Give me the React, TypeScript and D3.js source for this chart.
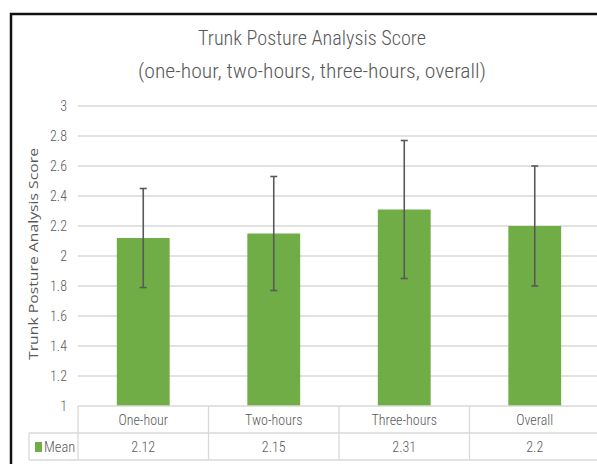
import { useRef, useEffect } from "react";
import * as d3 from "d3";

const categories = ["One-hour", "Two-hours", "Three-hours", "Overall"];
const means = [2.12, 2.15, 2.31, 2.2];
const errors = [0.33, 0.38, 0.46, 0.4];
const yTicks = [1, 1.2, 1.4, 1.6, 1.8, 2, 2.2, 2.4, 2.6, 2.8, 3];
const seriesName = "Mean";

const green = "#70ad47";
const gray = "#595959";
const gridColor = "#d9d9d9";
const font = "'Liberation Sans Narrow', 'Roboto Condensed', Roboto, 'Open Sans', sans-serif";

export default function App() {
  const svgRef = useRef<SVGSVGElement>(null);

  useEffect(() => {
    const svg = d3.select(svgRef.current);
    svg.selectAll("*").remove();

    const width = 597;
    const height = 464;
    const left = 78;
    const right = 600;
    const top = 106;
    const bottom = 406;
    const rowH = 27;

    svg.append("rect").attr("width", width).attr("height", height).attr("fill", "#fff");

    // chart frame (left & top, rest cropped)
    svg
      .append("path")
      .attr("d", `M11,${height} L11,14 L${width},14`)
      .attr("fill", "none")
      .attr("stroke", "#111")
      .attr("stroke-width", 2.5);

    const x = d3.scaleBand().domain(categories).range([left, right]).padding(0);
    const y = d3.scaleLinear().domain([1, 3]).range([bottom, top]);

    // title
    const titles = [
      { t: "Trunk Posture Analysis Score", y: 45, w: 228 },
      { t: "(one-hour, two-hours, three-hours, overall)", y: 78, w: 348 },
    ];
    titles.forEach((d) => {
      svg
        .append("text")
        .attr("x", 312)
        .attr("y", d.y)
        .attr("text-anchor", "middle")
        .attr("font-family", font)
        .attr("font-size", 20)
        .attr("font-weight", 300)
        .attr("fill", gray)
        .attr("textLength", d.w)
        .attr("lengthAdjust", "spacingAndGlyphs")
        .text(d.t);
    });

    // gridlines
    svg
      .append("g")
      .selectAll("line")
      .data(yTicks.slice(1))
      .enter()
      .append("line")
      .attr("x1", left)
      .attr("x2", width)
      .attr("y1", (d) => y(d))
      .attr("y2", (d) => y(d))
      .attr("stroke", gridColor)
      .attr("stroke-width", 1.3);

    // tick labels
    svg
      .append("g")
      .selectAll("text")
      .data(yTicks)
      .enter()
      .append("text")
      .attr("x", 67)
      .attr("y", (d) => y(d) + 5)
      .attr("text-anchor", "end")
      .attr("font-family", font)
      .attr("font-size", 14)
      .attr("font-weight", 300)
      .attr("fill", gray)
      .text((d) => String(d));

    // axis title
    svg
      .append("text")
      .attr("transform", `translate(38,${(top + bottom) / 2 - 2}) rotate(-90)`)
      .attr("text-anchor", "middle")
      .attr("font-family", "'Open Sans', sans-serif")
      .attr("font-size", 12.5)
      .attr("font-weight", 500)
      .attr("fill", gray)
      .attr("textLength", 212)
      .attr("lengthAdjust", "spacingAndGlyphs")
      .text("Trunk Posture Analysis Score");

    // bars
    const bw = x.bandwidth() * 0.405;
    svg
      .append("g")
      .selectAll("rect")
      .data(means)
      .enter()
      .append("rect")
      .attr("x", (d, i) => x(categories[i])! + x.bandwidth() / 2 - bw / 2)
      .attr("y", (d) => y(d))
      .attr("width", bw)
      .attr("height", (d) => bottom - y(d))
      .attr("fill", green);

    // error bars
    const eb = svg.append("g").attr("stroke", gray).attr("stroke-width", 1.6);
    means.forEach((m, i) => {
      const cx = x(categories[i])! + x.bandwidth() / 2;
      const hi = y(m + errors[i]);
      const lo = y(m - errors[i]);
      eb.append("line").attr("x1", cx).attr("x2", cx).attr("y1", hi).attr("y2", lo);
      eb.append("line").attr("x1", cx - 3.5).attr("x2", cx + 3.5).attr("y1", hi).attr("y2", hi);
      eb.append("line").attr("x1", cx - 3.5).attr("x2", cx + 3.5).attr("y1", lo).attr("y2", lo);
    });

    // data table
    const tbl = svg.append("g").attr("stroke", gridColor).attr("stroke-width", 1.3);
    tbl.append("line").attr("x1", left).attr("x2", width).attr("y1", bottom).attr("y2", bottom);
    tbl.append("line").attr("x1", 29).attr("x2", width).attr("y1", bottom + rowH).attr("y2", bottom + rowH);
    tbl.append("line").attr("x1", 29).attr("x2", width).attr("y1", bottom + 2 * rowH).attr("y2", bottom + 2 * rowH);
    tbl.append("line").attr("x1", 29).attr("x2", 29).attr("y1", bottom + rowH).attr("y2", bottom + 2 * rowH);
    categories.forEach((c) => {
      const xx = x(c)!;
      tbl.append("line").attr("x1", xx).attr("x2", xx).attr("y1", bottom).attr("y2", bottom + 2 * rowH);
    });

    categories.forEach((c, i) => {
      const cx = x(c)! + x.bandwidth() / 2;
      svg
        .append("text")
        .attr("x", cx)
        .attr("y", bottom + 19)
        .attr("text-anchor", "middle")
        .attr("font-family", font)
        .attr("font-size", 14)
        .attr("font-weight", 300)
        .attr("fill", gray)
        .text(c);
      svg
        .append("text")
        .attr("x", cx)
        .attr("y", bottom + rowH + 19)
        .attr("text-anchor", "middle")
        .attr("font-family", font)
        .attr("font-size", 14)
        .attr("font-weight", 300)
        .attr("fill", gray)
        .text(String(means[i]));
    });

    // legend key
    svg
      .append("rect")
      .attr("x", 35)
      .attr("y", bottom + rowH + 9)
      .attr("width", 7)
      .attr("height", 10)
      .attr("fill", green);
    svg
      .append("text")
      .attr("x", 44)
      .attr("y", bottom + rowH + 19)
      .attr("font-family", font)
      .attr("font-size", 14.5)
      .attr("font-weight", 300)
      .attr("fill", gray)
      .text(seriesName);
  }, []);

  return (
    <svg
      ref={svgRef}
      width={597}
      height={464}
      style={{ position: "absolute", left: 0, top: 0 }}
    />
  );
}
